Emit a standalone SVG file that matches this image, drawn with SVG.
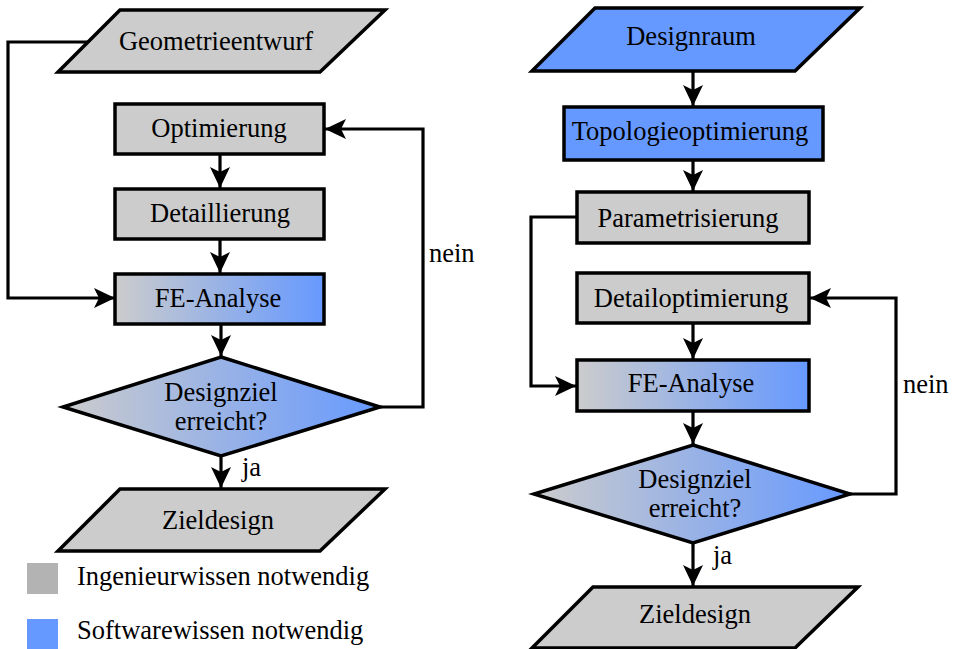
<svg xmlns="http://www.w3.org/2000/svg" width="953" height="649" viewBox="0 0 953 649" font-family="'Liberation Serif', 'DejaVu Serif', serif">
<style>
text{font-family:"Liberation Serif","DejaVu Serif",serif;font-size:26.5px;fill:#000}
.gray{fill:#cccccc;stroke:#000;stroke-width:3.5}
.blue{fill:#6699ff;stroke:#000;stroke-width:3.5}
.grad{fill:url(#g);stroke:#000;stroke-width:3.5}
.c{text-anchor:middle}
.conn{fill:none;stroke:#000;stroke-width:3.2;marker-end:url(#a)}
</style>
<defs>
<linearGradient id="g" x1="0" y1="0" x2="1" y2="0">
<stop offset="0" stop-color="#cccccc"/>
<stop offset="1" stop-color="#6699ff"/>
</linearGradient>
<marker id="a" markerUnits="userSpaceOnUse" viewBox="-1 -11 24 22" refX="21" refY="0" markerWidth="24" markerHeight="22" orient="auto">
<path d="M0,-10 L21,0 L0,10 L5,0 z" fill="#000"/>
</marker>
</defs>
<g id="connectors">
<polyline class="conn" points="88,42 8,42 8,298 115,298"/>
<line class="conn" x1="220" y1="154" x2="220" y2="188"/>
<line class="conn" x1="220" y1="239" x2="220" y2="273"/>
<line class="conn" x1="221" y1="324" x2="221" y2="356"/>
<polyline class="conn" points="380,407 423,407 423,129 325,129"/>
<line class="conn" x1="221" y1="456" x2="221" y2="488"/>
<line class="conn" x1="693" y1="71" x2="693" y2="106"/>
<line class="conn" x1="693" y1="160" x2="693" y2="191"/>
<polyline class="conn" points="577,217 531,217 531,386 576,386"/>
<line class="conn" x1="693" y1="323" x2="693" y2="359"/>
<line class="conn" x1="693" y1="411" x2="693" y2="444"/>
<polyline class="conn" points="850,494 896,494 896,298 810,298"/>
<line class="conn" x1="693" y1="543" x2="693" y2="586"/>
<text x="429" y="262">nein</text>
<text x="242" y="476">ja</text>
<text x="903" y="393">nein</text>
<text x="713" y="564">ja</text>
</g>
<g id="geometrieentwurf">
<polygon class="gray" points="120,10 385,10 320,72 58,72"/>
<text class="c" x="216" y="50">Geometrieentwurf</text>
</g>
<g id="optimierung">
<rect class="gray" x="115" y="104" width="209" height="50"/>
<text class="c" x="219" y="137">Optimierung</text>
</g>
<g id="detaillierung">
<rect class="gray" x="115" y="189" width="209" height="50"/>
<text class="c" x="220" y="222">Detaillierung</text>
</g>
<g id="fe-analyse-1">
<rect class="grad" x="115" y="274" width="209" height="50"/>
<text class="c" x="218" y="307">FE-Analyse</text>
</g>
<g id="designziel-1">
<polygon class="grad" points="221,357 380,407 221,456 63,407"/>
<text class="c" x="221" y="401">Designziel</text>
<text class="c" x="221" y="430">erreicht?</text>
</g>
<g id="zieldesign-1">
<polygon class="gray" points="120,489 385,489 320,551 58,551"/>
<text class="c" x="218" y="529">Zieldesign</text>
</g>
<g id="legend">
<rect x="27" y="563" width="31" height="31" fill="#b3b3b3"/>
<text x="77" y="585">Ingenieurwissen notwendig</text>
<rect x="27" y="619" width="31" height="30" fill="#6699ff"/>
<text x="77" y="639">Softwarewissen notwendig</text>
</g>
<g id="designraum">
<polygon class="blue" points="595,8 860,8 795,71 532,71"/>
<text class="c" x="691" y="45">Designraum</text>
</g>
<g id="topologieoptimierung">
<rect class="blue" x="564" y="107" width="259" height="53"/>
<text class="c" x="690" y="140">Topologieoptimierung</text>
</g>
<g id="parametrisierung">
<rect class="gray" x="577" y="192" width="232" height="51"/>
<text class="c" x="688" y="227">Parametrisierung</text>
</g>
<g id="detailoptimierung">
<rect class="gray" x="577" y="273" width="232" height="50"/>
<text class="c" x="691" y="307">Detailoptimierung</text>
</g>
<g id="fe-analyse-2">
<rect class="grad" x="577" y="360" width="232" height="51"/>
<text class="c" x="691" y="392">FE-Analyse</text>
</g>
<g id="designziel-2">
<polygon class="grad" points="693,445 850,494 693,543 534,494"/>
<text class="c" x="695" y="488">Designziel</text>
<text class="c" x="695" y="517">erreicht?</text>
</g>
<g id="zieldesign-2">
<polygon class="gray" points="593,587 858,587 795,648 532,648"/>
<text class="c" x="695" y="623">Zieldesign</text>
</g>
</svg>
